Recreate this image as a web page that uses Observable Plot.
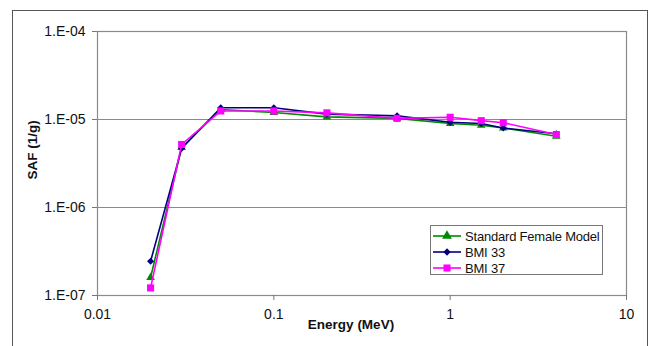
<!DOCTYPE html>
<html>
<head>
<meta charset="utf-8">
<script src="https://cdn.jsdelivr.net/npm/d3@7"></script>
<script src="https://cdn.jsdelivr.net/npm/@observablehq/plot@0.6"></script>
<style>
  html, body { margin: 0; padding: 0; background: #fff; overflow: hidden; }
  #wrap { position: relative; width: 650px; height: 346px; font-family: "Liberation Sans", Arial, sans-serif; }
  #frame { position: absolute; left: 12px; top: 10px; width: 636px; height: 400px; border: 1.5px solid #555; box-sizing: border-box; }
  #chart { position: absolute; left: 0; top: 0; }
  #legend { position: absolute; left: 430px; top: 225px; width: 173px; height: 50px; border: 1px solid #777; box-sizing: border-box; background: #fff; font-size: 13px; color: #111; }
  #legend .row { position: absolute; left: 2px; height: 16px; display: flex; align-items: center; white-space: nowrap; }
  #legend .row span { margin-left: 4px; letter-spacing: -0.2px; }
</style>
</head>
<body>
<div id="wrap">
  <div id="frame"></div>
  <div id="chart"></div>
  <div id="legend"></div>
</div>
<script>
const energies = [0.02, 0.03, 0.05, 0.1, 0.2, 0.5, 1, 1.5, 2, 4];
const standardFemale = [1.6e-7, 4.8e-6, 1.30e-5, 1.20e-5, 1.07e-5, 1.03e-5, 0.90e-5, 0.86e-5, 0.80e-5, 0.645e-5];
const bmi33 = [2.45e-7, 4.7e-6, 1.36e-5, 1.36e-5, 1.15e-5, 1.10e-5, 0.93e-5, 0.90e-5, 0.80e-5, 0.69e-5];
const bmi37 = [1.22e-7, 5.2e-6, 1.25e-5, 1.25e-5, 1.19e-5, 1.03e-5, 1.06e-5, 0.97e-5, 0.92e-5, 0.675e-5];

const seriesNames = ["Standard Female Model", "BMI 33", "BMI 37"];
const seriesColors = ["#008A00", "#000080", "#FF00FF"];
const seriesSymbols = ["triangle", "diamond2", "square"];
const seriesR = [3.2, 3.2, 4];

const xTicks = [0.01, 0.1, 1, 10];
const xTickLabels = ["0.01", "0.1", "1", "10"];
const yTicks = [1e-7, 1e-6, 1e-5, 1e-4];
const yTickLabels = ["1.E-07", "1.E-06", "1.E-05", "1.E-04"];

const seriesValues = [standardFemale, bmi33, bmi37];
const rows = [];
seriesNames.forEach((name, si) => {
  energies.forEach((e, i) => rows.push({series: name, si, energy: e, saf: seriesValues[si][i]}));
});

const marks = [
  Plot.ruleY(yTicks, {stroke: "#8a8a8a", strokeWidth: 1.2}),
  Plot.frame({stroke: "#8a8a8a", strokeWidth: 1.2}),
  Plot.axisX({ticks: xTicks, tickFormat: d => xTickLabels[xTicks.indexOf(d)], tickSize: 5, tickPadding: 9, fontSize: 14, stroke: "#777", label: null, fill: "#111"}),
  Plot.axisY({ticks: yTicks, tickFormat: d => yTickLabels[yTicks.findIndex(t => Math.abs(Math.log10(t) - Math.log10(d)) < 1e-6)], tickSize: 5, tickPadding: 7, fontSize: 14, stroke: "#777", label: null, fill: "#111"}),
  Plot.text(["SAF (1/g)"], {frameAnchor: "left", dx: -65, dy: 16, rotate: -90, fontWeight: "bold", fontSize: 13.5, fill: "#111"}),
  Plot.text(["Energy (MeV)"], {frameAnchor: "bottom", dx: -11, dy: 33, fontWeight: "bold", fontSize: 13.5, fill: "#111"})
];
seriesNames.forEach((name, si) => {
  const data = rows.filter(r => r.si === si);
  marks.push(Plot.line(data, {x: "energy", y: "saf", stroke: seriesColors[si], strokeWidth: 1.6}));
  marks.push(Plot.dot(data, {x: "energy", y: "saf", fill: seriesColors[si], stroke: "none", symbol: () => seriesSymbols[si], r: seriesR[si]}));
});

const chart = Plot.plot({
  width: 650,
  height: 346,
  marginLeft: 97,
  marginRight: 24,
  marginTop: 31,
  marginBottom: 51,
  style: {background: "transparent", fontFamily: "'Liberation Sans', Arial, sans-serif"},
  x: {type: "log", domain: [0.01, 10]},
  y: {type: "log", domain: [1e-7, 1e-4]},
  marks
});
document.getElementById("chart").appendChild(chart);

// Legend
const legend = document.getElementById("legend");
const symbolPaths = {
  triangle: d3.symbol(d3.symbolTriangle, 42)(),
  diamond2: d3.symbol(d3.symbolDiamond2, 34)(),
  square: d3.symbol(d3.symbolSquare, 50)()
};
seriesNames.forEach((name, si) => {
  const row = document.createElement("div");
  row.className = "row";
  row.style.top = (2 + si * 16) + "px";
  row.innerHTML = `<svg width="28" height="16"><line x1="0" x2="28" y1="8" y2="8" stroke="${seriesColors[si]}" stroke-width="1.6"/><path transform="translate(14,8)" d="${symbolPaths[seriesSymbols[si]]}" fill="${seriesColors[si]}"/></svg><span>${name}</span>`;
  legend.appendChild(row);
});
</script>
</body>
</html>
